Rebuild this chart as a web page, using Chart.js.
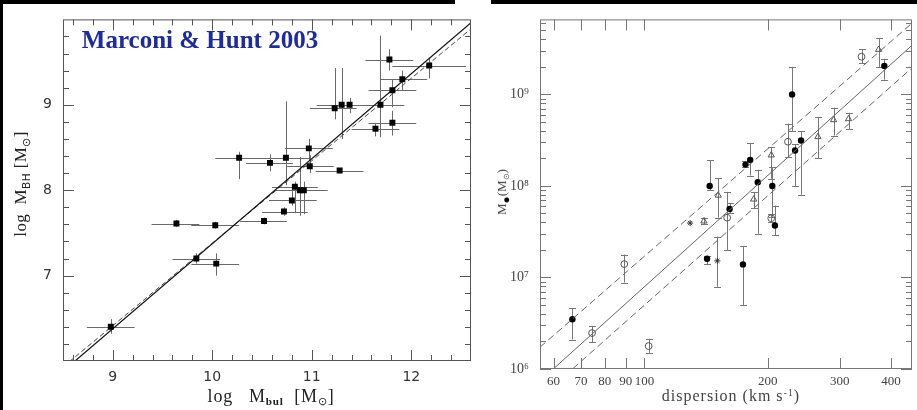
<!DOCTYPE html>
<html>
<head>
<meta charset="utf-8">
<script src="https://cdn.jsdelivr.net/npm/chart.js@4.4.1/dist/chart.umd.min.js"></script>
<style>
  html, body { margin: 0; padding: 0; background: #fff; }
  #wrap { position: relative; width: 917px; height: 410px; overflow: hidden; background: #fff; }
  canvas { position: absolute; top: 0; }
  .band { position: absolute; background: #000; }
  .lbl { position: absolute; white-space: nowrap; transform: translate(-50%, -50%); line-height: 1; }
  .rot { transform: translate(-50%, -50%) rotate(-90deg); }
  .lbl sub { font-size: 0.62em; vertical-align: -0.35em; line-height: 0; }
  .lbl sup { font-size: 0.62em; vertical-align: 0.55em; line-height: 0; }
</style>
</head>
<body>
<div id="wrap">
  <canvas id="left" width="476" height="410" style="left:0"></canvas>
  <canvas id="right" width="441" height="410" style="left:476px"></canvas>
  <div class="band" style="left:0;top:0;width:455px;height:4px"></div>
  <div class="band" style="left:491px;top:0;width:426px;height:4px"></div>
  <div class="band" style="left:0;top:0;width:3px;height:410px"></div>

  <div class="lbl" style="left:200px;top:40px;font:bold 25px 'Liberation Serif',serif;color:#1d2b9e">Marconi &amp; Hunt 2003</div>
  <div class="lbl rot" style="left:21px;top:184px;font:17px 'Liberation Serif',serif;color:#222;letter-spacing:0.4px">log&nbsp; M<sub style="font-family:'DejaVu Sans',sans-serif">BH</sub> [M<sub>⊙</sub>]</div>
  <div class="lbl" style="left:271px;top:396px;font:18px 'Liberation Serif',serif;color:#222;letter-spacing:0.8px">log&nbsp;&nbsp; M<sub style="font-weight:bold">bul</sub>&nbsp; [M<sub>⊙</sub>]</div>
  <div class="lbl" style="left:731px;top:396px;font:16px 'Liberation Serif',serif;color:#444;letter-spacing:1px">dispersion (km s<sup>-1</sup>)</div>
  <div class="lbl rot" style="left:502px;top:192px;font:13px 'Liberation Serif',serif;color:#444">M<sub style="color:#000;font-size:0.9em">●</sub>(M<sub>⊙</sub>)</div>
</div>

<script>
// ---------- left panel: Marconi & Hunt 2003 (log M_bul vs log M_BH)
const bulgeMass = [8.98, 9.64, 10.03, 9.84, 10.04, 10.27, 10.58, 10.74, 10.97, 10.98, 11.28, 10.83, 10.88, 10.92, 10.80, 10.72, 10.52, 11.23, 11.30, 11.38, 11.69, 11.78, 12.18, 11.91, 11.81, 11.64, 11.81];
const bulgeLo   = [8.74, 9.39, 9.79, 9.60, 9.79, 10.03, 10.34, 10.50, 10.73, 10.74, 11.04, 10.60, 10.64, 10.68, 10.57, 10.50, 10.28, 10.98, 11.05, 11.14, 11.45, 11.54, 11.81, 11.69, 11.57, 11.40, 11.57];
const bulgeHi   = [9.22, 9.87, 10.27, 10.08, 10.27, 10.50, 10.81, 10.98, 11.21, 11.22, 11.52, 11.06, 11.12, 11.16, 11.05, 10.96, 10.75, 11.45, 11.52, 11.62, 11.93, 12.02, 12.55, 12.16, 12.05, 11.88, 12.05];
const bhMass    = [6.40, 7.61, 7.59, 7.20, 7.14, 8.38, 8.32, 8.38, 8.49, 8.28, 8.23, 8.04, 8.00, 8.00, 7.88, 7.75, 7.64, 8.96, 9.00, 9.00, 9.00, 9.53, 9.46, 9.30, 9.17, 8.72, 8.79];
const bhLo      = [6.32, 7.57, 7.55, 7.14, 7.00, 8.13, 8.22, 8.06, 8.35, 8.20, 8.20, 7.73, 7.70, 7.72, 7.82, 7.70, 7.60, 8.83, 8.60, 8.90, 8.62, 9.40, 9.31, 9.17, 8.97, 8.63, 8.64];
const bhHi      = [6.49, 7.65, 7.63, 7.26, 7.26, 8.45, 8.42, 9.04, 8.60, 8.41, 8.26, 8.10, 8.39, 8.10, 8.05, 7.80, 7.68, 9.43, 9.43, 9.08, 9.81, 9.65, 9.55, 9.40, 9.30, 8.78, 8.93];

const mhFitX    = [8.5, 12.6];
const mhFitY    = [5.88, 9.96];
const mhDashY   = [5.93, 9.89];

const leftXTicks  = [8.6, 8.8, 9, 9.2, 9.4, 9.6, 9.8, 10, 10.2, 10.4, 10.6, 10.8, 11, 11.2, 11.4, 11.6, 11.8, 12, 12.2, 12.4];
const leftYTicks  = [6.2, 6.4, 6.6, 6.8, 7, 7.2, 7.4, 7.6, 7.8, 8, 8.2, 8.4, 8.6, 8.8, 9, 9.2, 9.4, 9.6, 9.8];
const leftXLabels = [9, 10, 11, 12];
const leftYLabels = [7, 8, 9];

// ---------- right panel: M_BH vs velocity dispersion
const fillSigma = [66.7, 144.3, 142.2, 161.4, 176.5, 181.2, 189.1, 205.2, 208.3, 174, 229.3, 233.2, 241.2, 385.2];
const fillMass  = [3.5e6, 1.0e8, 1.6e7, 5.6e7, 1.71e8, 1.92e8, 1.1e8, 1.0e8, 3.7e7, 1.39e7, 1.0e9, 2.44e8, 3.14e8, 2.05e9];
const fillLo    = [2.1e6, 9.0e7, 1.4e7, 5.0e7, 1.6e8, 1.3e8, 3.0e7, 4.6e7, 2.9e7, 5.0e6, 4.0e8, 1.0e8, 8.0e7, 1.45e9];
const fillHi    = [4.6e6, 1.9e8, 1.72e7, 6.5e7, 1.85e8, 2.95e8, 1.5e8, 1.6e8, 6.1e7, 2.2e7, 2.0e9, 2.85e8, 3.95e8, 2.45e9];

const openSigma = [74.5, 89.3, 102.4, 159.2, 204, 224.1, 338.8];
const openMass  = [2.47e6, 1.4e7, 1.78e6, 4.5e7, 4.44e7, 3.04e8, 2.58e9];
const openLo    = [1.96e6, 8.8e6, 1.5e6, 2.0e7, 4.0e7, 2.05e8, 2.2e9];
const openHi    = [2.96e6, 1.78e7, 2.15e6, 8.6e7, 4.9e7, 4.8e8, 3.1e9];

const triSigma  = [139.7, 151.4, 184.8, 204, 265.2, 289.6, 315, 373];
const triMass   = [4.12e7, 7.9e7, 7.15e7, 2.17e8, 3.44e8, 5.27e8, 5.4e8, 3.09e9];
const triLo     = [3.8e7, 4.5e7, 5.8e7, 1.2e8, 2.0e8, 3.55e8, 4.16e8, 2.0e9];
const triHi     = [4.5e7, 1.22e8, 8.5e7, 2.65e8, 5.6e8, 7.15e8, 6.3e8, 4.1e9];

const starSigma = [129.3, 150.7];
const starMass  = [3.93e7, 1.52e7];
const starLo    = [null, 7.9e6];
const starHi    = [null, 2.8e7];

const fitSigma  = [55.6, 450];
const fitMass   = [7.4e5, 3.44e9];
const upperMass = [1.73e6, 6.0e9];
const lowerMass = [4.85e5, 1.95e9];

const rightXTicks = [60, 70, 80, 90, 100, 200, 300, 400];
const rightYTicks = [1e6, 2e6, 3e6, 4e6, 5e6, 6e6, 7e6, 8e6, 9e6,
                     1e7, 2e7, 3e7, 4e7, 5e7, 6e7, 7e7, 8e7, 9e7,
                     1e8, 2e8, 3e8, 4e8, 5e8, 6e8, 7e8, 8e8, 9e8,
                     1e9, 2e9, 3e9, 4e9, 5e9, 6e9];
const rightYLabels = { 1e6: '10⁶', 1e7: '10⁷', 1e8: '10⁸', 1e9: '10⁹' };

// ---------- helpers
function pts(xs, ys, extra) {
  return xs.map((x, i) => Object.assign({ x: x, y: ys[i] }, extra ? extra(i) : {}));
}

// error bars, drawn under the markers
const errorBars = {
  id: 'errorBars',
  beforeDatasetsDraw(chart, args, o) {
    const { ctx, scales: { x, y } } = chart;
    ctx.save();
    ctx.strokeStyle = o.color;
    ctx.lineWidth = 1;
    ctx.beginPath();
    chart.data.datasets.forEach(ds => {
      ds.data.forEach(p => {
        const px = Math.round(x.getPixelForValue(p.x)) + 0.5;
        const py = Math.round(y.getPixelForValue(p.y)) + 0.5;
        if (p.yl != null) {
          const a = y.getPixelForValue(p.yl), b = y.getPixelForValue(p.yh);
          ctx.moveTo(px, a); ctx.lineTo(px, b);
          if (o.cap) {
            ctx.moveTo(px - o.cap, Math.round(a) + 0.5); ctx.lineTo(px + o.cap, Math.round(a) + 0.5);
            ctx.moveTo(px - o.cap, Math.round(b) + 0.5); ctx.lineTo(px + o.cap, Math.round(b) + 0.5);
          }
        }
        if (p.xl != null) {
          ctx.moveTo(x.getPixelForValue(p.xl), py); ctx.lineTo(x.getPixelForValue(p.xh), py);
        }
      });
    });
    ctx.stroke();
    ctx.restore();
  }
};

// box frame with inward tick marks on all four sides
const frameTicks = {
  id: 'frameTicks',
  afterDraw(chart, args, o) {
    const { ctx, chartArea: a, scales: { x, y } } = chart;
    ctx.save();
    ctx.strokeStyle = o.color;
    ctx.lineWidth = 1;
    ctx.strokeRect(a.left + 0.5, a.top + 0.5, a.right - a.left - 1, a.bottom - a.top - 1);
    ctx.beginPath();
    x.ticks.forEach(t => {
      const len = o.xMajor(t.value) ? o.long : o.short;
      const px = Math.round(x.getPixelForValue(t.value)) + 0.5;
      ctx.moveTo(px, a.bottom); ctx.lineTo(px, a.bottom - len);
      ctx.moveTo(px, a.top); ctx.lineTo(px, a.top + len);
    });
    y.ticks.forEach(t => {
      const len = o.yMajor(t.value) ? o.long : o.short;
      const py = Math.round(y.getPixelForValue(t.value)) + 0.5;
      ctx.moveTo(a.left, py); ctx.lineTo(a.left + len, py);
      ctx.moveTo(a.right, py); ctx.lineTo(a.right - len, py);
    });
    ctx.stroke();
    ctx.restore();
  }
};

Chart.defaults.animation = false;

// ---------- left chart
new Chart(document.getElementById('left'), {
  type: 'scatter',
  data: {
    datasets: [
      {
        data: pts(bulgeMass, bhMass, i => ({ xl: bulgeLo[i], xh: bulgeHi[i], yl: bhLo[i], yh: bhHi[i] })),
        pointStyle: 'rect', pointRadius: 4.2, backgroundColor: '#000', borderColor: '#000', borderWidth: 0
      },
      {
        data: pts(mhFitX, mhFitY), showLine: true, pointRadius: 0,
        borderColor: '#111', borderWidth: 1.2
      },
      {
        data: pts(mhFitX, mhDashY), showLine: true, pointRadius: 0,
        borderColor: '#444', borderWidth: 1, borderDash: [5, 3]
      }
    ]
  },
  options: {
    responsive: false,
    events: [],
    layout: { padding: { top: 13, right: 5, left: 0, bottom: 0 } },
    scales: {
      x: {
        type: 'linear', min: 8.5, max: 12.6,
        afterBuildTicks: s => { s.ticks = leftXTicks.map(v => ({ value: v })); },
        afterFit: s => { s.height = 49; },
        grid: { display: false, drawTicks: false },
        border: { display: false },
        ticks: {
          autoSkip: false, maxRotation: 0, padding: 8, color: '#333',
          font: { family: "'DejaVu Sans', sans-serif", size: 14 },
          callback: v => leftXLabels.includes(v) ? String(v) : ''
        }
      },
      y: {
        type: 'linear', min: 6, max: 10,
        afterBuildTicks: s => { s.ticks = leftYTicks.map(v => ({ value: v })); },
        afterFit: s => { s.width = 63; },
        grid: { display: false, drawTicks: false },
        border: { display: false },
        ticks: {
          autoSkip: false, padding: 11, color: '#333',
          font: { family: "'DejaVu Sans', sans-serif", size: 14 },
          callback: v => leftYLabels.includes(v) ? String(v) : ''
        }
      }
    },
    plugins: {
      legend: { display: false },
      tooltip: { enabled: false },
      errorBars: { color: '#6a6a6a' },
      frameTicks: {
        color: '#555', long: 11, short: 6,
        xMajor: v => leftXLabels.includes(v), yMajor: v => leftYLabels.includes(v)
      }
    }
  },
  plugins: [errorBars, frameTicks]
});

// ---------- right chart
const grey = '#555';
new Chart(document.getElementById('right'), {
  type: 'scatter',
  data: {
    datasets: [
      {
        data: pts(fitSigma, fitMass), showLine: true, pointRadius: 0,
        borderColor: '#666', borderWidth: 1
      },
      {
        data: pts(fitSigma, upperMass), showLine: true, pointRadius: 0,
        borderColor: '#666', borderWidth: 1, borderDash: [7, 4]
      },
      {
        data: pts(fitSigma, lowerMass), showLine: true, pointRadius: 0,
        borderColor: '#666', borderWidth: 1, borderDash: [7, 4]
      },
      {
        data: pts(fillSigma, fillMass, i => ({ yl: fillLo[i], yh: fillHi[i] })),
        pointStyle: 'circle', pointRadius: 3.2, backgroundColor: '#000', borderColor: '#000', borderWidth: 0
      },
      {
        data: pts(openSigma, openMass, i => ({ yl: openLo[i], yh: openHi[i] })),
        pointStyle: 'circle', pointRadius: 3.4, backgroundColor: 'rgba(0,0,0,0)', borderColor: grey, borderWidth: 1
      },
      {
        data: pts(triSigma, triMass, i => ({ yl: triLo[i], yh: triHi[i] })),
        pointStyle: 'triangle', pointRadius: 3.6, backgroundColor: 'rgba(0,0,0,0)', borderColor: grey, borderWidth: 1
      },
      {
        data: pts(starSigma, starMass, i => ({ yl: starLo[i], yh: starHi[i] })),
        pointStyle: 'star', pointRadius: 3, backgroundColor: grey, borderColor: '#333', borderWidth: 1
      }
    ]
  },
  options: {
    responsive: false,
    events: [],
    layout: { padding: { top: 13, right: 1, left: 0, bottom: 0 } },
    scales: {
      x: {
        type: 'logarithmic', min: 55.6, max: 450,
        afterBuildTicks: s => { s.ticks = rightXTicks.map(v => ({ value: v })); },
        afterFit: s => { s.height = 41; },
        grid: { display: false, drawTicks: false },
        border: { display: false },
        ticks: {
          autoSkip: false, maxRotation: 0, padding: 5, color: '#444',
          font: { family: "'Liberation Serif', serif", size: 13 },
          callback: v => String(v)
        }
      },
      y: {
        type: 'logarithmic', min: 1e6, max: 6.6e9,
        afterBuildTicks: s => { s.ticks = rightYTicks.map(v => ({ value: v })); },
        afterFit: s => { s.width = 64; },
        grid: { display: false, drawTicks: false },
        border: { display: false },
        ticks: {
          autoSkip: false, padding: 11, color: '#444',
          font: { family: "'Liberation Serif', serif", size: 14 },
          callback: v => rightYLabels[v] || ''
        }
      }
    },
    plugins: {
      legend: { display: false },
      tooltip: { enabled: false },
      errorBars: { color: '#777', cap: 3.5 },
      frameTicks: {
        color: '#777', long: 11, short: 6,
        xMajor: v => true, yMajor: v => rightYLabels[v] !== undefined
      }
    }
  },
  plugins: [errorBars, frameTicks]
});
</script>
</body>
</html>
